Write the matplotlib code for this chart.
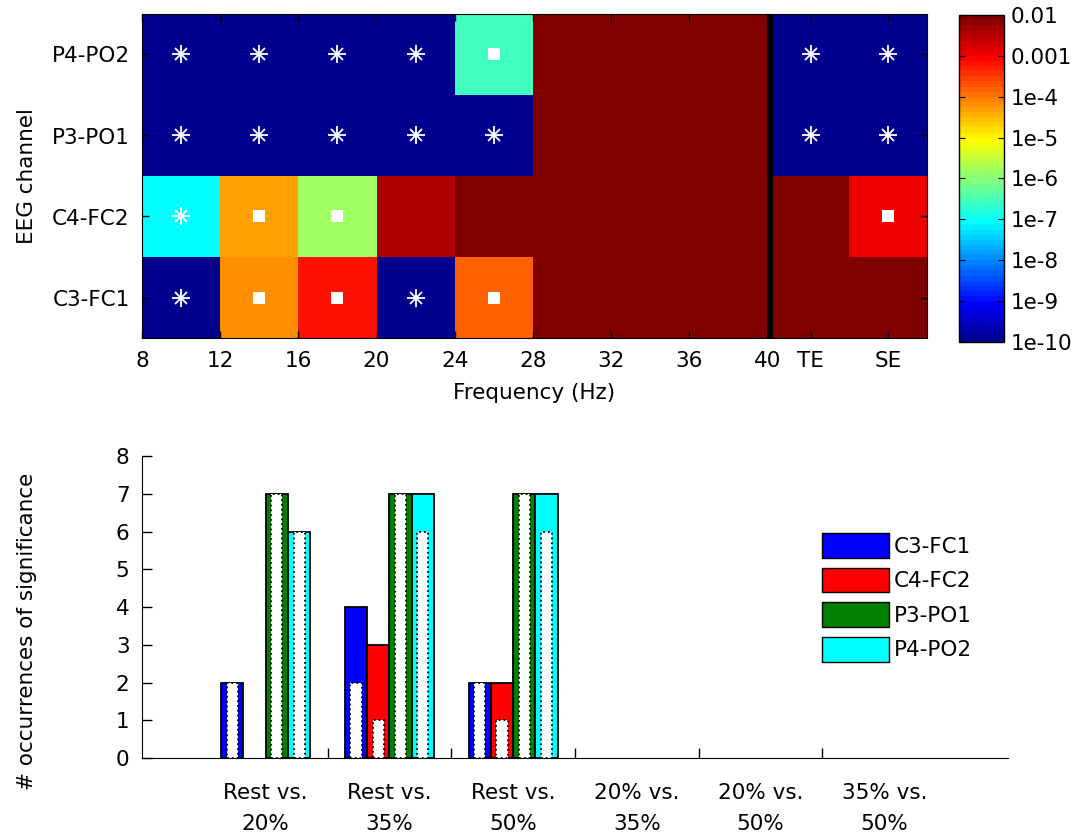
import numpy as np
import matplotlib
matplotlib.use('Agg')
import matplotlib.pyplot as plt
from matplotlib.colors import ListedColormap, LogNorm
from matplotlib.patches import Patch

plt.rcParams['font.family'] = ['DejaVu Sans']
plt.rcParams['font.size'] = 15.5

# p-values per channel, columns: 8-12 ... 36-40 Hz, TE, SE
channels = ['C3-FC1', 'C4-FC2', 'P3-PO1', 'P4-PO2']
p_c3 = [1e-12, 7e-5, 7e-4, 1e-12, 1.6e-4, 0.05, 0.05, 0.05, 0.05, 0.05]
p_c4 = [8e-8, 5e-5, 1.4e-6, 3.5e-3, 0.05, 0.05, 0.05, 0.05, 0.05, 1.2e-3]
p_p3 = [1e-12, 1e-12, 1e-12, 1e-12, 1e-12, 0.05, 0.05, 0.05, 1e-12, 1e-12]
p_p4 = [1e-12, 1e-12, 1e-12, 1e-12, 2.5e-7, 0.05, 0.05, 0.05, 1e-12, 1e-12]
freq_labels = ['8', '12', '16', '20', '24', '28', '32', '36', '40']
extra_labels = ['TE', 'SE']
cbar_ticks = [1e-10, 1e-9, 1e-8, 1e-7, 1e-6, 1e-5, 1e-4, 1e-3, 1e-2]
cbar_labels = ['1e-10', '1e-9', '1e-8', '1e-7', '1e-6', '1e-5', '1e-4', '0.001', '0.01']
star_level = 1e-7
square_level = 2.5e-3

# occurrences of significance per comparison
comparisons = ['Rest vs.\n20%', 'Rest vs.\n35%', 'Rest vs.\n50%',
               '20% vs.\n35%', '20% vs.\n50%', '35% vs.\n50%']
c3_total = [2, 4, 2, 0, 0, 0]
c4_total = [0, 3, 2, 0, 0, 0]
p3_total = [7, 7, 7, 0, 0, 0]
p4_total = [6, 7, 7, 0, 0, 0]
c3_inner = [2, 2, 2, 0, 0, 0]
c4_inner = [0, 1, 1, 0, 0, 0]
p3_inner = [7, 7, 7, 0, 0, 0]
p4_inner = [6, 6, 6, 0, 0, 0]
bar_colors = ['#0000ff', '#ff0000', '#007f00', '#00ffff']


def matlab_jet(m=64):
    n = int(np.ceil(m / 4))
    u = np.concatenate([np.arange(1, n + 1) / n, np.ones(n - 1), np.arange(n, 0, -1) / n])
    g = int(np.ceil(n / 2)) - int(m % 4 == 1) + np.arange(1, len(u) + 1)
    J = np.zeros((m, 3))
    for col, idx in enumerate([g + n, g, g - n]):
        ok = (idx >= 1) & (idx <= m)
        J[idx[ok] - 1, col] = u[ok]
    return ListedColormap(J)


W, H = 1083, 838
fig = plt.figure(figsize=(W / 100, H / 100), dpi=100)

def px_axes(x0, y0, x1, y1):
    return fig.add_axes([x0 / W, 1 - y1 / H, (x1 - x0) / W, (y1 - y0) / H])

# ---- heatmap ----
ax1 = px_axes(142, 14, 927, 338)
P = np.array([p_c3, p_c4, p_p3, p_p4])
grid = np.ma.masked_invalid(np.insert(P, 8, np.nan, axis=1))
xedges = np.array(list(range(9)) + [8.07, 9.04, 10.04])
yedges = np.arange(len(channels) + 1)
cmap = matlab_jet(64)
cmap.set_bad('black')
mesh = ax1.pcolormesh(xedges, yedges, grid, cmap=cmap, norm=LogNorm(1e-10, 1e-2))

xc = (xedges[:-1] + xedges[1:]) / 2
xc = np.delete(xc, 8)
for r in range(P.shape[0]):
    for c in range(P.shape[1]):
        if P[r, c] < star_level:
            ax1.plot(xc[c], r + 0.5, marker='+', color='white', ms=13, mew=1.3)
            ax1.plot(xc[c], r + 0.5, marker='x', color='white', ms=8, mew=1.3)
        elif P[r, c] < square_level:
            ax1.plot(xc[c], r + 0.5, marker='s', color='white', ms=9, mew=0)

ax1.set_xlim(0, xedges[-1])
ax1.set_ylim(0, len(channels))
ax1.set_xticks(list(range(9)) + list(xc[8:]))
ax1.set_xticklabels(freq_labels + extra_labels)
ax1.set_yticks(np.arange(len(channels)) + 0.5)
ax1.set_yticklabels(channels)
ax1.tick_params(direction='in', top=True, right=True, length=5, width=1, pad=9)
ax1.set_xlabel('Frequency (Hz)', labelpad=9)
ax1.set_ylabel('EEG channel')
ax1.yaxis.set_label_coords(-0.134, 0.5)

cax = px_axes(959, 15, 1004, 342)
cb = fig.colorbar(mesh, cax=cax, ticks=cbar_ticks)
cb.set_ticklabels(cbar_labels)
cax.minorticks_off()
cax.tick_params(direction='in', left=True, right=True, length=4, pad=5)
cb.outline.set_linewidth(1)

# ---- bar chart ----
ax2 = px_axes(142, 456, 1008, 758)
x = np.arange(1, len(comparisons) + 1)
width = 0.18
offsets = [-0.27, -0.09, 0.09, 0.27]
totals = [c3_total, c4_total, p3_total, p4_total]
inners = [c3_inner, c4_inner, p3_inner, p4_inner]
# zero counts are left out so no empty outlines sit on the axis
for off, tot, col in zip(offsets, totals, bar_colors):
    tot = np.array(tot)
    nz = tot > 0
    ax2.bar(x[nz] + off, tot[nz], width, color=col, edgecolor='k', linewidth=1.3)
for off, inn in zip(offsets, inners):
    inn = np.array(inn)
    nz = inn > 0
    ax2.bar(x[nz] + off, inn[nz], width / 2, color='white', edgecolor='k',
            linewidth=1.3, linestyle=':')

ax2.set_xlim(0, 7)
ax2.set_ylim(0, 8)
ax2.set_yticks(range(9))
ax2.set_xticks(x)
ax2.set_xticklabels(comparisons, linespacing=1.7)
ax2.set_xticks(x[:-1] + 0.5, minor=True)
ax2.tick_params(axis='x', which='major', length=0, pad=18)
ax2.tick_params(axis='x', which='minor', direction='in', length=7, width=1)
ax2.tick_params(axis='y', direction='in', length=7, width=1, pad=9)
for s in ['top', 'right']:
    ax2.spines[s].set_visible(False)
ax2.set_ylabel('# occurrences of significance')
ax2.yaxis.set_label_coords(-0.121, 0.42)

handles = [Patch(facecolor=c, edgecolor='k', linewidth=1) for c in bar_colors]
ax2.legend(handles, channels, loc='upper left', bbox_to_anchor=(822 / W, 1 - 533 / H),
           bbox_transform=fig.transFigure, frameon=False, borderpad=0, borderaxespad=0,
           handlelength=3.1, handleheight=1.4, labelspacing=0.45, handletextpad=0.25)

fig.savefig('out.png', dpi=100)
